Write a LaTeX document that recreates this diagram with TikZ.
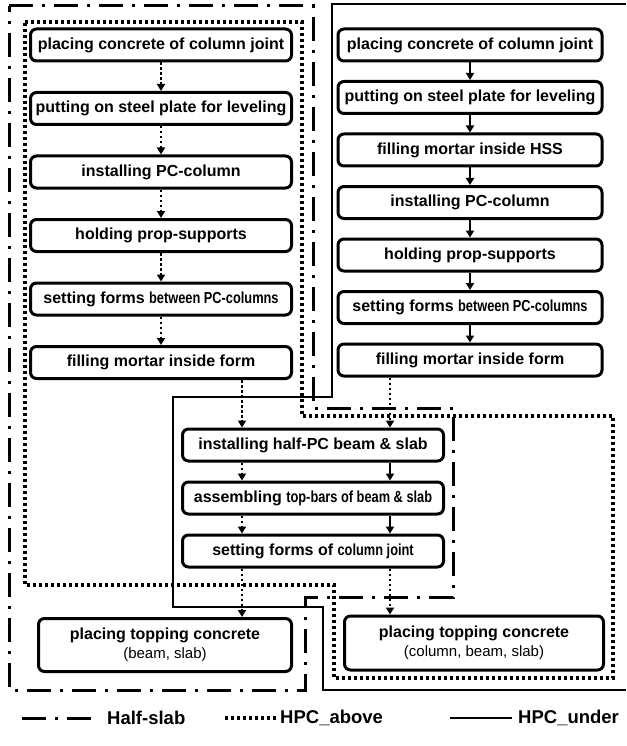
\documentclass[tikz,border=0pt]{standalone}
\usepackage{fontspec}
\setmainfont{Liberation Sans}
\usepackage{graphicx}
\usetikzlibrary{calc,positioning,arrows,arrows.meta,chains,shapes}
\newcommand{\squeezed}[1]{\scalebox{0.8}[1]{#1}}
\tikzset{
>={Triangle[length=7pt,width=8pt]},
  stepbox/.style={
    rectangle,
    rounded corners=6pt,
    % fill=black!10,
    draw=black, line width=3pt,
    minimum width=261pt,
    minimum height=32pt,
    inner xsep=1pt,
    font=\bfseries\fontsize{16}{18}\selectfont,
    align=center},
  dotjoin/.style={->, line width=2.2pt, dash pattern=on 2.5pt off 2.5pt},
  solidjoin/.style={->, line width=1.6pt},
  halfslab/.style={line width=3pt, dash pattern=on 24pt off 9pt on 3pt off 9pt},
  hpcabove/.style={line width=3.5pt, dash pattern=on 3pt off 3pt},
  hpcunder/.style={line width=2.5pt},
  legendtext/.style={anchor=west, inner sep=0pt, font=\bfseries\fontsize{18.5}{21}\selectfont},
}

\begin{document}
\begin{tikzpicture}[x=1pt, y=-1pt]
	\useasboundingbox (0,0) rectangle (626,746);

	\draw[halfslab] (9,6) -- (313,6) -- (313,408) -- (453,408) -- (453,597)
		-- (305,597) -- (305,690) -- (9,690) -- cycle;
	\draw[hpcabove] (25,22) -- (302,22) -- (302,416) -- (613,416) -- (613,678)
		-- (334,678) -- (334,585) -- (25,585) -- cycle;
	\draw[hpcunder] (626,4) -- (332,4) -- (332,397) -- (173,397) -- (173,607)
		-- (323,607) -- (323,690) -- (626,690);

		\begin{scope}[start chain=lcol going below, node distance=28.5pt,
		every join/.style={dotjoin}]
			\node[stepbox, on chain] (l-place) at (161,45) {placing concrete of column joint};
			\node[stepbox, on chain, join] (l-plate) {putting on steel plate for leveling};
			\node[stepbox, on chain, join] (l-column) {installing PC-column};
			\node[stepbox, on chain, join] (l-props) {holding prop-supports};
			\node[stepbox, on chain, join] (l-forms) {setting forms \squeezed{between PC-columns}};
			\node[stepbox, on chain, join] (l-fill) {filling mortar inside form};
		\end{scope}

		\begin{scope}[start chain=rcol going below, node distance=17.5pt,
		every join/.style={solidjoin}]
			\node[stepbox, on chain, minimum width=264pt] (r-place) at (470,45) {placing concrete of column joint};
			\node[stepbox, on chain, join, minimum width=264pt] (r-plate) {putting on steel plate for leveling};
			\node[stepbox, on chain, join, minimum width=264pt] (r-hss) {filling mortar inside HSS};
			\node[stepbox, on chain, join, minimum width=264pt] (r-column) {installing PC-column};
			\node[stepbox, on chain, join, minimum width=264pt] (r-props) {holding prop-supports};
			\node[stepbox, on chain, join, minimum width=264pt] (r-forms) {setting forms \squeezed{between PC-columns}};
			\node[stepbox, on chain, join, minimum width=264pt] (r-fill) {filling mortar inside form};
		\end{scope}

		\begin{scope}[start chain=mcol going below, node distance=18pt]
			\node[stepbox, on chain] (halfpc) at (313,445) {installing half-PC beam \& slab};
			\node[stepbox, on chain] (topbars) {assembling \squeezed{top-bars of beam \& slab}};
			\node[stepbox, on chain] (jointform) {setting forms of \squeezed{column joint}};
		\end{scope}

		\node[stepbox, minimum width=253pt, minimum height=53pt] (top-l) at (165,645)
			{placing topping concrete\\[1pt]{\mdseries\fontsize{15}{17}\selectfont (beam, slab)}};
		\node[stepbox, minimum width=259pt, minimum height=54pt] (top-r) at (474,643)
			{placing topping concrete\\[1pt]{\mdseries\fontsize{15}{17}\selectfont (column, beam, slab)}};

	\coordinate (lx) at ([xshift=-71pt]halfpc.north);
	\coordinate (rx) at ([xshift=77pt]halfpc.north);
	\draw[dotjoin] (l-fill.south -| lx) -- (lx);
	\draw[dotjoin] (r-fill.south -| rx) -- (rx);
	\foreach \a/\b in {halfpc/topbars, topbars/jointform} {
		\draw[dotjoin] (\a.south -| lx) -- (\b.north -| lx);
		\draw[solidjoin] (\a.south -| rx) -- (\b.north -| rx);
	}
	\draw[dotjoin] (jointform.south -| lx) -- (top-l.north -| lx);
	\draw[dotjoin] (jointform.south -| rx) -- (top-r.north -| rx);

	% legend
	\node[legendtext] (lg-half) at (107,718) {Half-slab};
	\node[legendtext] (lg-above) at (280,718) {HPC\_above};
	\node[legendtext] (lg-under) at (518,718) {HPC\_under};
	\draw[halfslab] ([xshift=-85pt]lg-half.west) -- ([xshift=-12pt]lg-half.west);
	\draw[hpcabove] ([xshift=-55pt]lg-above.west) -- ([xshift=-4pt]lg-above.west);
	\draw[hpcunder] ([xshift=-68pt]lg-under.west) -- ([xshift=-6pt]lg-under.west);
\end{tikzpicture}
\end{document}
